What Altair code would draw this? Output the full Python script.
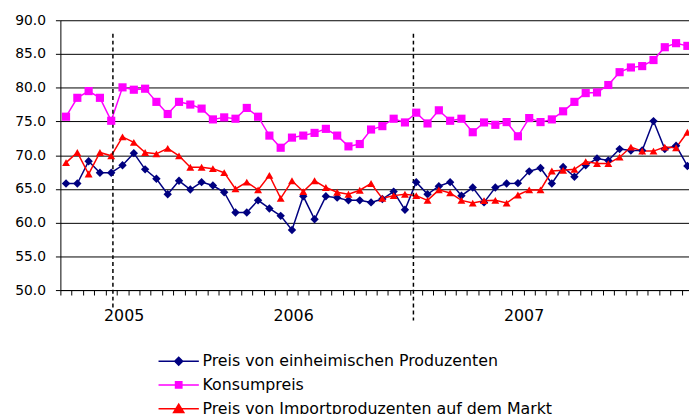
import altair as alt
import pandas as pd

# ---------------- data ----------------
series_names = [
    "Preis von einheimischen Produzenten",
    "Konsumpreis",
    "Preis von Importproduzenten auf dem Markt",
]
series_colors = ["#000080", "#FF00FF", "#FF0000"]

domestic = [65.8, 65.8, 69.1, 67.4, 67.4, 68.5, 70.3, 67.9, 66.5, 64.2,
            66.2, 64.9, 66.0, 65.5, 64.5, 61.5, 61.5, 63.3, 62.1, 61.0,
            58.9, 63.9, 60.5, 63.9, 63.7, 63.3, 63.3, 63.0, 63.5, 64.6,
            61.9, 66.0, 64.2, 65.4, 66.0, 64.0, 65.2, 63.0, 65.2, 65.8,
            65.85, 67.6, 68.1, 65.8, 68.25, 66.8, 68.5, 69.5, 69.2, 70.9,
            70.7, 70.7, 75.05, 70.9, 71.4, 68.4]
consumer = [75.7, 78.5, 79.5, 78.5, 75.1, 80.05, 79.7, 79.85, 77.9, 76.1,
            77.9, 77.5, 76.9, 75.3, 75.6, 75.4, 77.0, 75.7, 72.9, 71.1,
            72.6, 72.9, 73.3, 73.9, 72.9, 71.3, 71.65, 73.8, 74.3, 75.4,
            74.85, 76.3, 74.7, 76.65, 75.1, 75.4, 73.4, 74.85, 74.5, 74.9,
            72.8, 75.5, 74.9, 75.3, 76.5, 77.9, 79.2, 79.3, 80.4, 82.3,
            83.0, 83.2, 84.1, 86.0, 86.6, 86.2]
imported = [68.9, 70.4, 67.2, 70.4, 69.9, 72.7, 71.9, 70.4, 70.2, 71.0,
            69.9, 68.2, 68.2, 68.0, 67.4, 65.0, 66.0, 64.85, 67.0, 63.6,
            66.2, 64.6, 66.2, 65.2, 64.5, 64.2, 64.8, 65.8, 63.6, 64.0,
            64.2, 64.0, 63.3, 64.85, 64.4, 63.3, 62.9, 63.25, 63.3, 62.9,
            64.1, 64.85, 64.85, 67.65, 67.75, 67.9, 69.05, 68.75, 68.75, 69.7,
            71.2, 70.6, 70.6, 71.2, 71.1, 73.4]

period_index = list(range(len(domestic)))

year_labels = ["2005", "2006", "2007"]
year_label_pos = [5.1, 20.1, 40.5]

event_pos = [4.15, 30.75]
event_top = [88.0, 88.0]
event_bottom = [47.3, 45.5]

y_ticks = [50, 55, 60, 65, 70, 75, 80, 85, 90]

# ---------------- tables ----------------
rows = []
for name, vals in zip(series_names, [domestic, consumer, imported]):
    for i, v in zip(period_index, vals):
        rows.append({"idx": i, "value": v, "series": name})
df = pd.DataFrame(rows)

ev_df = pd.DataFrame({"idx": event_pos, "top": event_top, "bottom": event_bottom})

FONT = "DejaVu Sans"
PLOT_W = 636
PLOT_H = 273
step = 11.43
x_max = -0.5 + PLOT_W / step

x_scale = alt.Scale(domain=[-0.5, x_max], nice=False, zero=False)
y_scale = alt.Scale(domain=[50, 90], nice=False, zero=False)
color_scale = alt.Scale(domain=series_names, range=series_colors)

tick_values = [i - 0.5 for i in range(len(period_index) + 1)]

x_tick_axis = alt.Axis(orient="bottom", values=tick_values, labels=False, ticks=True,
                       tickSize=5, tickColor="black", tickWidth=1, domain=True,
                       domainColor="black", domainWidth=1, grid=False, title=None)

label_expr = f"'{year_labels[-1]}'"
for pos, lab in reversed(list(zip(year_label_pos[:-1], year_labels[:-1]))):
    label_expr = f"datum.value <= {pos} ? '{lab}' : {label_expr}"

year_axis = alt.Axis(orient="bottom", values=year_label_pos, labelExpr=label_expr,
                     domain=False, ticks=False, tickSize=0, grid=False,
                     labelPadding=18, labelFont=FONT, labelFontSize=16,
                     labelColor="black", title=None, labelFlush=False,
                     labelOverlap=False)

y_axis = alt.Axis(values=y_ticks, format=".1f", grid=True, gridColor="black",
                  gridWidth=1, domainColor="black", domainWidth=1, tickColor="black",
                  tickSize=5, labelPadding=10, labelFont=FONT, labelFontSize=14,
                  labelColor="black", title=None)

base = alt.Chart(df)

lines = base.mark_line(strokeWidth=1.5).encode(
    x=alt.X("idx:Q", scale=x_scale, axis=x_tick_axis),
    y=alt.Y("value:Q", scale=y_scale, axis=y_axis),
    color=alt.Color("series:N", scale=color_scale, legend=None),
)

points = base.mark_point(filled=True, opacity=1).encode(
    x=alt.X("idx:Q", scale=x_scale, axis=None),
    y=alt.Y("value:Q", scale=y_scale, axis=y_axis),
    color=alt.Color("series:N", scale=color_scale, legend=None),
    shape=alt.Shape("series:N", scale=alt.Scale(domain=series_names,
                    range=["diamond", "square", "triangle-up"]), legend=None),
    size=alt.Size("series:N", scale=alt.Scale(domain=series_names,
                  range=[72, 64, 100]), legend=None),
)

rules = alt.Chart(ev_df).mark_rule(strokeDash=[4, 3], strokeWidth=1.5, color="black").encode(
    x=alt.X("idx:Q", scale=x_scale, axis=year_axis),
    y=alt.Y("top:Q", scale=y_scale, axis=y_axis),
    y2="bottom:Q",
)

legend_paths = [
    "M-5.1,0H5.1M0,-1L1,0L0,1L-1,0Z",
    "M-5.1,0H5.1M-0.8,-0.8H0.8V0.8H-0.8Z",
    "M-5.1,0H5.1M0,-1.15L1.3,1H-1.3Z",
]

legend_def = alt.Legend(title=None, orient="none", legendX=111.7, legendY=337,
                        symbolSize=64, symbolStrokeWidth=1.5, symbolOpacity=1,
                        labelFont=FONT, labelFontSize=16, labelColor="black",
                        labelOffset=16, rowPadding=8, labelLimit=700)

legend_layer = base.transform_filter("datum.value < 0").mark_point(
    filled=True, size=64, strokeWidth=1.5, opacity=1
).encode(
    x=alt.X("idx:Q", scale=x_scale, axis=None),
    y=alt.Y("value:Q", scale=y_scale, axis=y_axis),
    fill=alt.Fill("series:N", scale=alt.Scale(domain=series_names, range=series_colors),
                  legend=legend_def),
    stroke=alt.Stroke("series:N", scale=alt.Scale(domain=series_names, range=series_colors),
                      legend=legend_def),
    shape=alt.Shape("series:N", scale=alt.Scale(domain=series_names, range=legend_paths),
                    legend=legend_def),
)

chart = alt.layer(lines, rules, points, legend_layer).resolve_scale(
    shape="independent", fill="independent", stroke="independent", size="independent"
).resolve_axis(
    x="independent"
).properties(
    width=PLOT_W,
    height=PLOT_H,
    autosize=alt.AutoSizeParams(type="none"),
    padding={"left": 53, "top": 10, "right": 0, "bottom": 123},
    background="white",
).configure_view(stroke=None)

chart.save("out.html", embed_options={"renderer": "svg", "actions": False})
